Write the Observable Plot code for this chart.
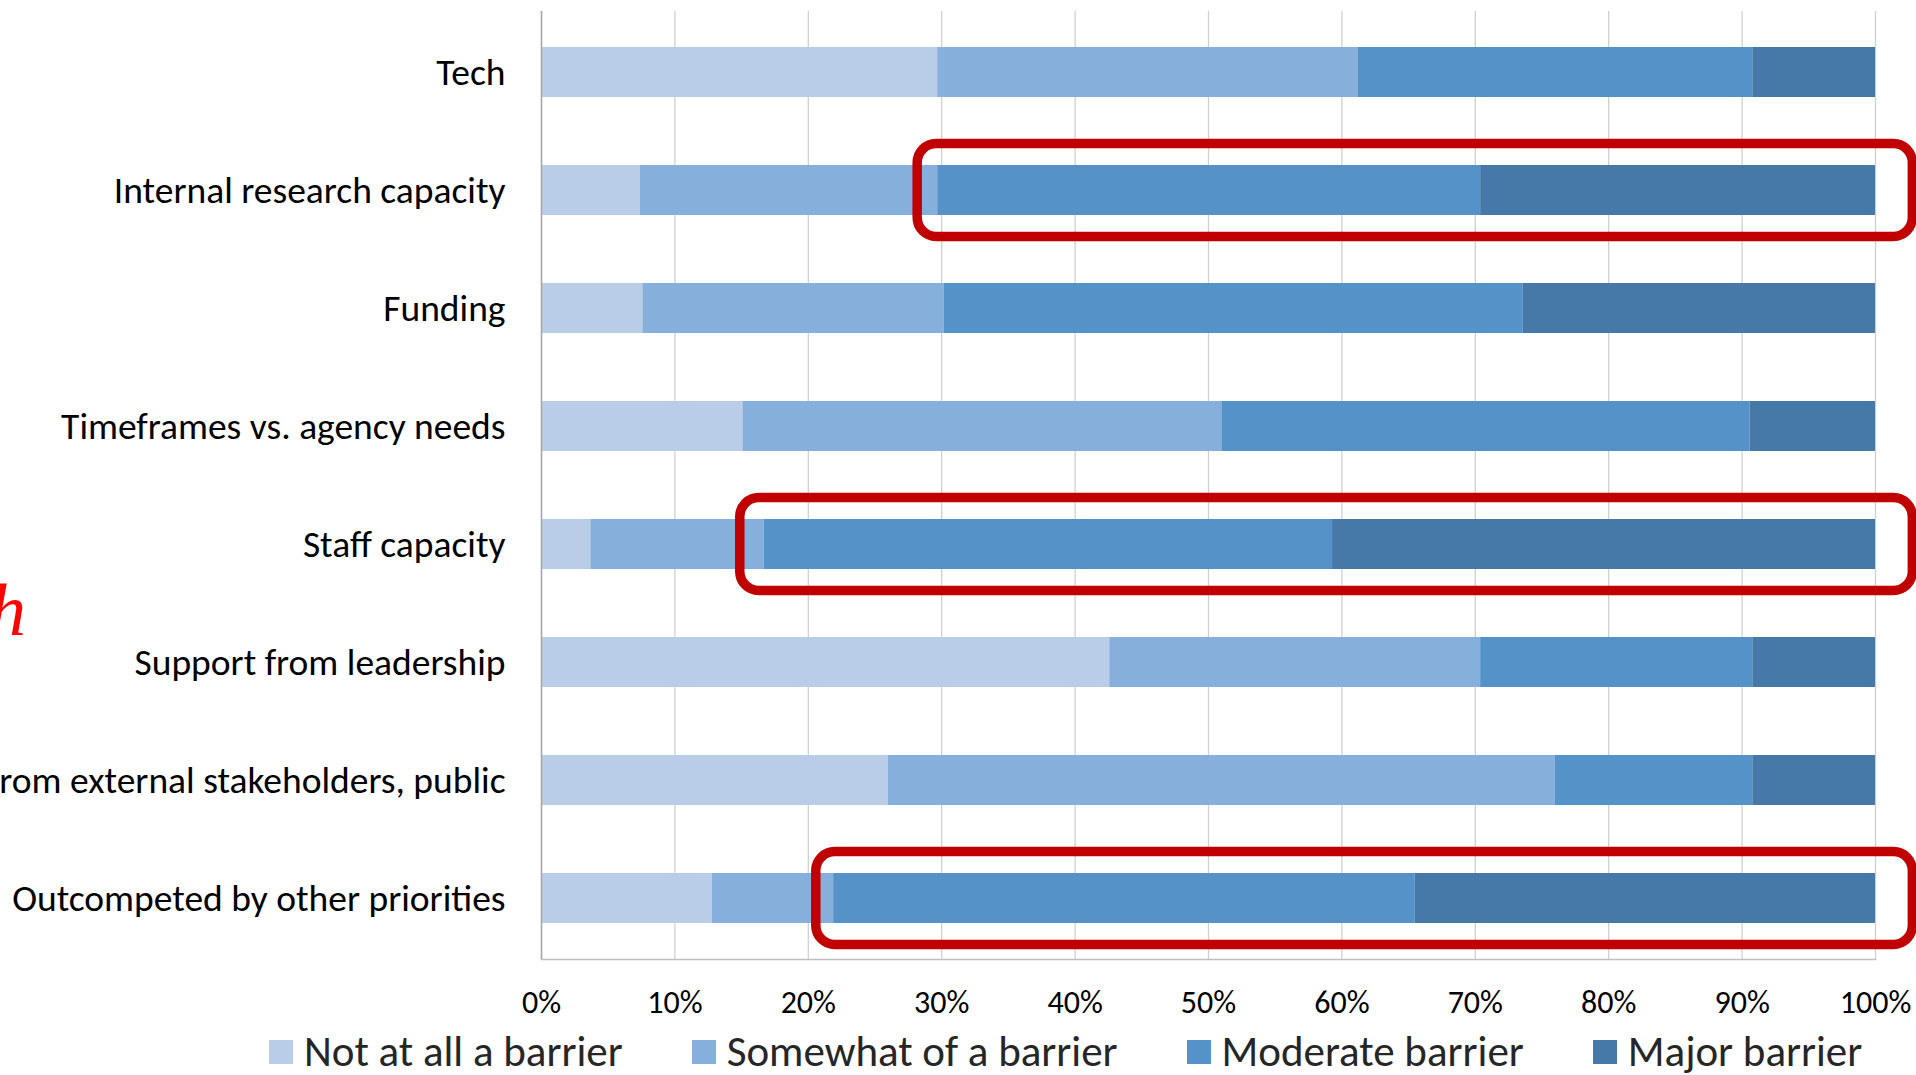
<!DOCTYPE html>
<html>
<head>
<meta charset="utf-8">
<script src="https://cdn.jsdelivr.net/npm/d3@7"></script>
<script src="https://cdn.jsdelivr.net/npm/@observablehq/plot@0.6"></script>
<style>
  html, body { margin: 0; padding: 0; background: #fff; overflow: hidden; }
  #wrap { position: relative; width: 1916px; height: 1075px; }
  #legend { position: absolute; left: 269px; top: 1031px; height: 42px; display: flex; align-items: center;
            font-family: Carlito, Calibri, Lato, sans-serif; font-size: 43px; line-height: 42px; color: #262626; white-space: nowrap; }
  .item { display: flex; align-items: center; margin-right: 69px; }
  .sw { width: 24px; height: 24px; margin-right: 11px; flex: none; }
  #redh { position: absolute; left: 0; top: 573px; width: 26px; text-align: right; font-family: "Liberation Serif", "DejaVu Serif", serif;
          font-style: italic; font-size: 74px; line-height: 74px; color: #ff0000; white-space: nowrap; direction: rtl; overflow: visible; }
</style>
</head>
<body>
<div id="wrap"><div id="chart"></div><div id="legend"></div><div id="redh">h</div></div>
<script>
const categories = [
  "Tech",
  "Internal research capacity",
  "Funding",
  "Timeframes vs. agency needs",
  "Staff capacity",
  "Support from leadership",
  "Support from external stakeholders, public",
  "Outcompeted by other priorities"
];
const levels = ["Not at all a barrier", "Somewhat of a barrier", "Moderate barrier", "Major barrier"];
const colors = ["#b9cde8", "#86afdc", "#5592c7", "#4779a8"];

const notAtAll = [29.7, 7.4, 7.6, 15.1, 3.7, 42.6, 26.0, 12.8];
const somewhat = [31.5, 22.3, 22.6, 35.9, 13.0, 27.8, 50.0, 9.1];
const moderate = [29.6, 40.7, 43.4, 39.6, 42.6, 20.4, 14.8, 43.6];
const major    = [9.2, 29.6, 26.4, 9.4, 40.7, 9.2, 9.2, 34.5];

const xTicks = [0, 10, 20, 30, 40, 50, 60, 70, 80, 90, 100];

// highlighted rows (red rounded boxes)
const highlightCats  = ["Internal research capacity", "Staff capacity", "Outcompeted by other priorities"];
const highlightStart = [28.2, 14.9, 20.6];
const highlightEnd   = [102.8, 102.8, 102.8];

const series = [notAtAll, somewhat, moderate, major];
const table = [];
levels.forEach((lev, j) => categories.forEach((c, i) => table.push({category: c, level: lev, value: series[j][i]})));
const boxes = highlightCats.map((c, i) => ({category: c, start: highlightStart[i], end: highlightEnd[i]}));

const font = "Carlito, Calibri, Lato, sans-serif";

const chart = Plot.plot({
  width: 1916,
  height: 1032,
  marginLeft: 541,
  marginRight: 41,
  marginTop: 11,
  marginBottom: 73,
  style: {fontFamily: font, background: "#fff", color: "#000", overflow: "visible"},
  x: {domain: [0, 100], ticks: xTicks},
  y: {domain: categories, paddingInner: 0.58, paddingOuter: 0.29, align: 0.5},
  color: {domain: levels, range: colors},
  marks: [
    Plot.gridX(xTicks, {stroke: "#d0d0d0", strokeOpacity: 1, strokeWidth: 1.3}),
    Plot.barX(table, Plot.stackX({x: "value", y: "category", fill: "level"})),
    Plot.ruleX([0], {stroke: "#a6a6a6", strokeWidth: 1.5}),
    Plot.frame({anchor: "bottom", stroke: "#bfbfbf", strokeWidth: 1.5}),
    Plot.barX(boxes, {x1: "start", x2: "end", y: "category", fill: "none", stroke: "#c00000",
                      strokeWidth: 9.5, rx: 19, insetTop: -21.5, insetBottom: -21.5}),
    Plot.axisY({tickSize: 0, tickPadding: 36, fontSize: 37.5, label: null, fill: "#000"}),
    Plot.axisX(xTicks, {tickSize: 0, tickPadding: 31, fontSize: 32, label: null, fill: "#000",
                        tickFormat: d => d + "%"})
  ]
});
document.getElementById("chart").appendChild(chart);

const legend = d3.select("#legend");
levels.forEach((lev, i) => {
  const it = legend.append("div").attr("class", "item");
  it.append("div").attr("class", "sw").style("background", colors[i]);
  it.append("span").text(lev);
});
</script>
</body>
</html>
